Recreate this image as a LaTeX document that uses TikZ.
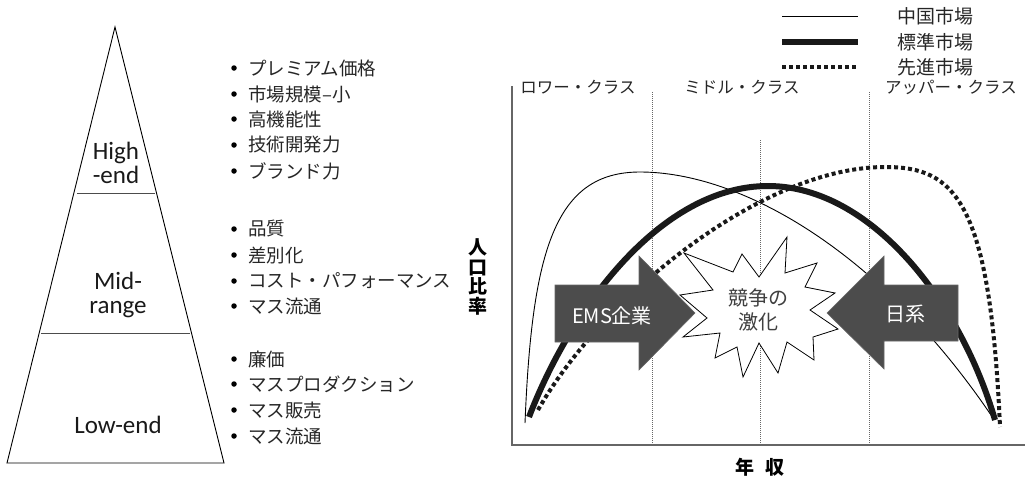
\documentclass[tikz,border=0pt]{standalone}
\usepackage{fontspec}
\newfontfamily\jp{Noto Sans CJK JP}
\newfontfamily\carlitofont{Carlito}
\begin{document}
\begin{tikzpicture}[x=1pt,y=-1pt,
  tri/.style={draw=black,line width=0.9pt},
  divider/.style={draw=black!70,line width=0.9pt},
  tlabel/.style={font=\carlitofont\fontsize{25}{27}\selectfont,align=center,text=black!90},
  item/.style={font=\jp\fontsize{18.5}{20}\selectfont,anchor=west,inner sep=0pt,text=black!85},
  bul/.style={circle,fill=black,inner sep=0pt,minimum size=5.5pt},
  leg/.style={font=\jp\fontsize{19}{21}\selectfont,anchor=west,inner sep=0pt,text=black!85},
  cls/.style={font=\jp\fontsize{16.5}{18}\selectfont,inner sep=0pt,text=black!85},
  axis/.style={draw=black!60,line width=1.4pt},
  vgrid/.style={draw=black!60,line width=0.6pt,dash pattern=on 1pt off 1pt},
  thin/.style={draw=black,line width=0.9pt},
  thick/.style={draw=black!90,line width=6pt},
  dots/.style={draw=black!90,line width=4pt,dash pattern=on 4pt off 3pt},
  arr/.style={fill=black!70,draw=black!60,line width=0.6pt},
  arrtext/.style={font=\jp\fontsize{20}{22}\selectfont,text=white,inner sep=0pt},
  startext/.style={font=\jp\fontsize{20}{24}\selectfont,text=black!75,align=center,inner sep=0pt}
]
\useasboundingbox (0,0) rectangle (1035,477);
% ---------------- pyramid ----------------
\coordinate (apex) at (115,27);
\coordinate (bl) at (7,463);
\coordinate (br) at (224,463);
\draw[tri] (apex) -- (bl) -- (br) -- cycle;
\coordinate (d1l) at (77,193); \coordinate (d1r) at (155,193);
\coordinate (d2l) at (41,333); \coordinate (d2r) at (190,333);
\draw[divider] (d1l) -- (d1r);
\draw[divider] (d2l) -- (d2r);
\node[tlabel] (high) at (116,163) {High\\[-3pt]-end};
\node[tlabel] (mid) at (118,295) {Mid-\\[-3pt]range};
\node[tlabel] (low) at (118,425) {Low-end};
% ---------------- bullet lists ----------------
\foreach \yy/\tx [count=\i] in {68/プレミアム価格,94/市場規模–小,119/高機能性,145/技術開発力,171/ブランド力,
  229/品質,255/差別化,281/コスト・パフォーマンス,306/マス流通,
  359/廉価,384/マスプロダクション,410/マス販売,436/マス流通}{
  \node[bul] (b\i) at (234,\yy) {};
  \node[item] (t\i) at (248,\yy) {\tx};
}
% ---------------- legend ----------------
\coordinate (l1a) at (782,16); \coordinate (l1b) at (858,16);
\coordinate (l2a) at (782,42); \coordinate (l2b) at (858,42);
\coordinate (l3a) at (782,67); \coordinate (l3b) at (858,67);
\draw[thin] (l1a) -- (l1b);
\draw[thick] (l2a) -- (l2b);
\draw[dots] (l3a) -- (l3b);
\node[leg] (g1) at (897,16) {中国市場};
\node[leg] (g2) at (897,42) {標準市場};
\node[leg] (g3) at (897,67) {先進市場};
% ---------------- axes ----------------
\coordinate (o) at (512,445);
\coordinate (ytop) at (512,86);
\coordinate (xend) at (1025,445);
\draw[vgrid] (652,92) -- (652,445);
\draw[vgrid] (760,140) -- (760,445);
\draw[vgrid] (869,92) -- (869,445);
\draw[axis] (ytop) -- (o) -- (xend);
\node[cls] (c1) at (578,87) {ロワー・クラス};
\node[cls] (c2) at (742,87) {ミドル・クラス};
\node[cls] (c3) at (951,87) {アッパー・クラス};
\node[font=\jp\bfseries\fontsize{19}{20}\selectfont,inner sep=0pt] (xl) at (760,467) {年\hspace{0.6em}収};
\node[font=\jp\bfseries\fontsize{19}{19.5}\selectfont,inner sep=0pt,align=center] (yl) at (478,277) {人\\口\\比\\率};
% ---------------- curves ----------------
\coordinate (cs) at (525,423); \coordinate (cp) at (640,172); \coordinate (ce) at (993,418);
\draw[thin] (cs) .. controls (532,250) and (555,172) .. (cp) .. controls (740,172) and (880,250) .. (ce);
\coordinate (ds) at (538,410); \coordinate (dp) at (885,167); \coordinate (de) at (1000,427);
\draw[dots] (ds) .. controls (600,300) and (760,167) .. (dp) .. controls (955,167) and (990,200) .. (de);
\coordinate (ts) at (529,417); \coordinate (tp) at (768,186); \coordinate (te) at (995,420);
\draw[thick] (ts) .. controls (570,310) and (660,186) .. (tp) .. controls (870,186) and (960,300) .. (te);
% ---------------- arrows ----------------
\draw[arr] (555,285) -- (639,285) -- (639,256) -- (695,313) -- (639,370) -- (639,342) -- (555,342) -- cycle;
\draw[arr] (958,285) -- (884,285) -- (884,256) -- (827,313) -- (884,369) -- (884,341) -- (958,341) -- cycle;
\node[arrtext] (ems) at (612,316) {EMS企業};
\node[arrtext] (jp) at (905,314) {日系};
% ---------------- star ----------------
\draw[fill=white,draw=black,line width=0.8pt]
 (684,253) -- (733,272) -- (742,254) -- (759,277) -- (787,237) -- (785,273) -- (817,263) -- (805,287)
 -- (835,293) -- (810,310) -- (838,329) -- (813,337) -- (814,360) -- (787,342) -- (778,373) -- (759,343)
 -- (743,377) -- (737,347) -- (715,358) -- (720,333) -- (683,337) -- (707,318) -- (680,295) -- (713,290) -- cycle;
\node[startext] (star) at (758,310) {競争の\\激化};
\end{tikzpicture}
\end{document}
